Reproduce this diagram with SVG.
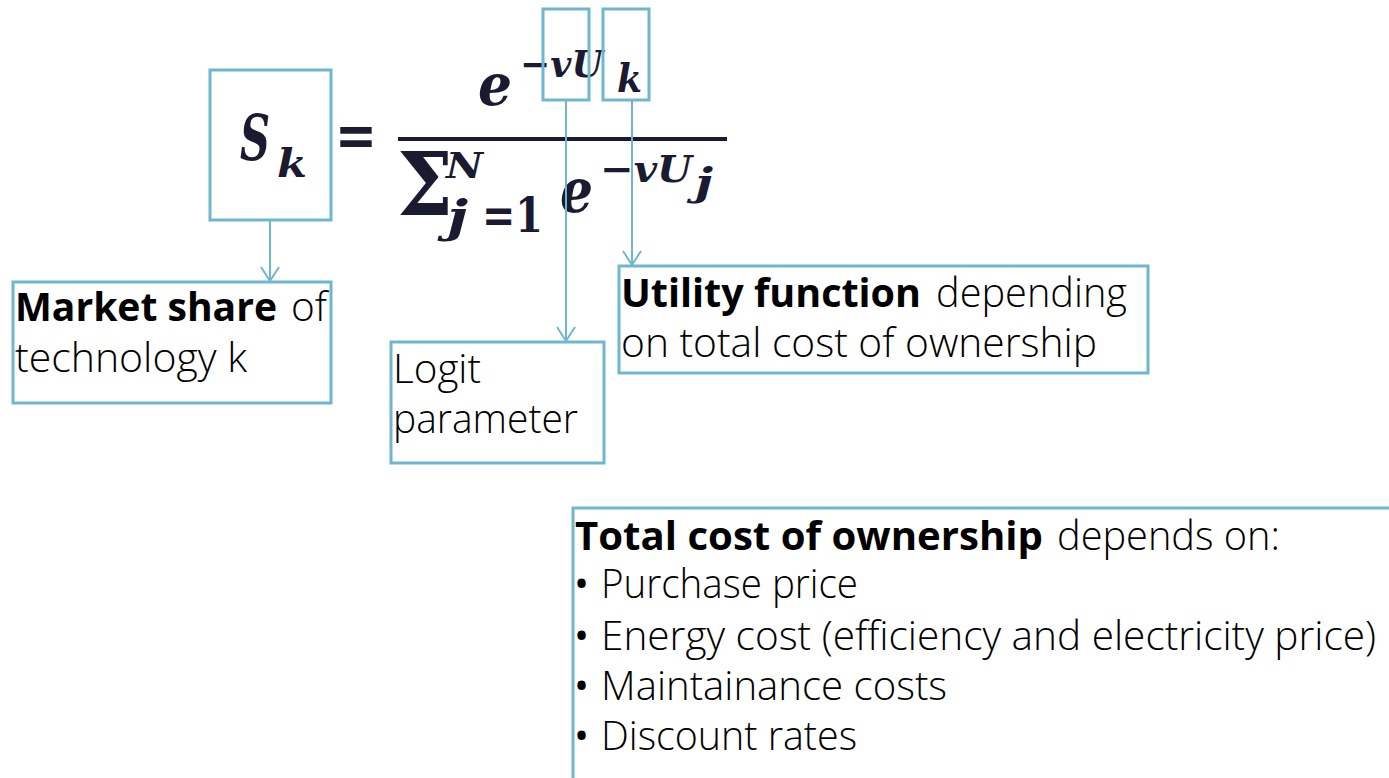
<svg xmlns="http://www.w3.org/2000/svg" width="1389" height="778" viewBox="0 0 1389 778">
<defs>
<style>
.box{fill:none;stroke:#6fb7cd;stroke-width:3}
.con{fill:none;stroke:#6fb7cd;stroke-width:2}
.t{font-family:"Open Sans","Noto Sans",sans-serif;font-size:40px;font-weight:300;fill:#000}
.b{font-weight:bold}
.bu{font-family:"Open Sans","Noto Sans",sans-serif;font-size:40px;font-weight:normal;fill:#000}
.m{font-family:"DejaVu Serif","Liberation Serif",serif;font-style:italic;font-weight:bold;fill:#1a1a30}
.mr{font-family:"DejaVu Serif","Liberation Serif",serif;font-weight:bold;fill:#1a1a30}
</style>
<marker id="arr" markerUnits="userSpaceOnUse" markerWidth="20" markerHeight="22" refX="16" refY="11" orient="auto" viewBox="0 0 20 22">
<path d="M2,2 L16,11 L2,20" fill="none" stroke="#6fb7cd" stroke-width="2"/>
</marker>
</defs>
<rect width="1389" height="778" fill="#fff"/>
<g id="formula">
<text class="m" x="240" y="160" font-size="64" textLength="30" lengthAdjust="spacingAndGlyphs">S</text>
<text class="m" x="277" y="177" font-size="40" textLength="30" lengthAdjust="spacingAndGlyphs">k</text>
<text class="mr" x="335" y="156" font-size="60" textLength="42" lengthAdjust="spacingAndGlyphs">=</text>
<line x1="398" y1="139" x2="727" y2="139" stroke="#1a1a30" stroke-width="4"/>
<text class="m" x="478" y="105" font-size="58" textLength="34" lengthAdjust="spacingAndGlyphs">e</text>
<text class="m" x="520" y="77" font-size="38" textLength="83" lengthAdjust="spacingAndGlyphs">−vU</text>
<text class="m" x="617" y="92" font-size="40" textLength="25" lengthAdjust="spacingAndGlyphs">k</text>
<text class="mr" x="397" y="215" font-size="88" textLength="56" lengthAdjust="spacingAndGlyphs" font-weight="normal">Σ</text>
<text class="m" x="446" y="178" font-size="36" textLength="37" lengthAdjust="spacingAndGlyphs">N</text>
<text class="m" x="447" y="232" font-size="44" textLength="21" lengthAdjust="spacingAndGlyphs">j</text>
<text class="mr" x="482" y="232" font-size="48" textLength="61" lengthAdjust="spacingAndGlyphs">=1</text>
<text class="m" x="560" y="212" font-size="62" textLength="33" lengthAdjust="spacingAndGlyphs">e</text>
<text class="m" x="600" y="182" font-size="38" textLength="92" lengthAdjust="spacingAndGlyphs">−vU</text>
<text class="m" x="695" y="195" font-size="38" textLength="18" lengthAdjust="spacingAndGlyphs">j</text>
</g>
<g id="hl-sk"><rect class="box" x="210" y="70" width="121" height="150"/></g>
<g id="hl-v"><rect class="box" x="543" y="9" width="46" height="91"/></g>
<g id="hl-k"><rect class="box" x="603" y="9" width="46" height="91"/></g>
<g id="connectors">
<line class="con" x1="270" y1="221" x2="270" y2="281" marker-end="url(#arr)"/>
<line class="con" x1="566" y1="101" x2="566" y2="341" marker-end="url(#arr)"/>
<line class="con" x1="632" y1="101" x2="632" y2="265" marker-end="url(#arr)"/>
</g>
<g id="market-share">
<rect class="box" x="13" y="282" width="318" height="121"/>
<text class="t b" x="15" y="321" textLength="262" lengthAdjust="spacingAndGlyphs">Market share</text>
<text class="t" x="291" y="321" textLength="36" lengthAdjust="spacingAndGlyphs">of</text>
<text class="t" x="15" y="372" textLength="232" lengthAdjust="spacingAndGlyphs">technology k</text>
</g>
<g id="logit">
<rect class="box" x="391" y="342" width="213" height="121"/>
<text class="t" x="393" y="383" textLength="88" lengthAdjust="spacingAndGlyphs">Logit</text>
<text class="t" x="393" y="433" textLength="185" lengthAdjust="spacingAndGlyphs">parameter</text>
</g>
<g id="utility">
<rect class="box" x="619" y="266" width="529" height="107"/>
<text class="t b" x="621" y="307" textLength="300" lengthAdjust="spacingAndGlyphs">Utility function</text>
<text class="t" x="936" y="307" textLength="191" lengthAdjust="spacingAndGlyphs">depending</text>
<text class="t" x="621" y="357" textLength="476" lengthAdjust="spacingAndGlyphs">on total cost of ownership</text>
</g>
<g id="tco">
<rect class="box" x="573" y="508" width="830" height="300"/>
<text class="t b" x="575" y="550" textLength="468" lengthAdjust="spacingAndGlyphs">Total cost of ownership</text>
<text class="t" x="1057" y="550" textLength="223" lengthAdjust="spacingAndGlyphs">depends on:</text>
<text class="bu" x="574" y="598">•</text>
<text class="t" x="601" y="598" textLength="257" lengthAdjust="spacingAndGlyphs">Purchase price</text>
<text class="bu" x="574" y="650">•</text>
<text class="t" x="601" y="650" textLength="775" lengthAdjust="spacingAndGlyphs">Energy cost (efficiency and electricity price)</text>
<text class="bu" x="574" y="700">•</text>
<text class="t" x="601" y="700" textLength="346" lengthAdjust="spacingAndGlyphs">Maintainance costs</text>
<text class="bu" x="574" y="750">•</text>
<text class="t" x="601" y="750" textLength="256" lengthAdjust="spacingAndGlyphs">Discount rates</text>
</g>
</svg>
